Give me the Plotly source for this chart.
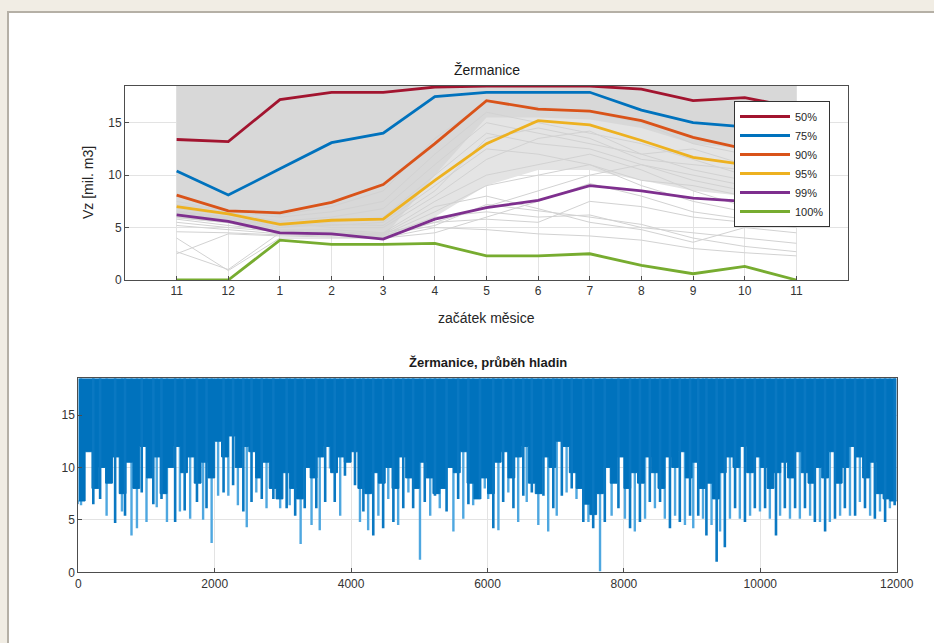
import plotly.graph_objects as go

# ---------------- data: top chart ----------------
month_labels = ["11", "12", "1", "2", "3", "4", "5", "6", "7", "8", "9", "10", "11"]
month_idx = list(range(len(month_labels)))

p50 = [13.4, 13.2, 17.2, 17.9, 17.9, 18.4, 18.5, 18.5, 18.5, 18.2, 17.1, 17.4, 16.4]
p75 = [10.4, 8.1, 10.6, 13.1, 14.0, 17.5, 17.9, 17.9, 17.9, 16.2, 15.0, 14.6, 13.8]
p90 = [8.1, 6.6, 6.4, 7.4, 9.1, 13.0, 17.1, 16.3, 16.1, 15.2, 13.6, 12.5, 11.8]
p95 = [7.0, 6.3, 5.3, 5.7, 5.8, 9.5, 13.0, 15.2, 14.8, 13.3, 11.7, 11.0, 10.6]
p99 = [6.2, 5.6, 4.5, 4.4, 3.9, 5.8, 6.9, 7.6, 9.0, 8.5, 7.8, 7.5, 6.2]
p100 = [0.0, 0.0, 3.8, 3.4, 3.4, 3.5, 2.3, 2.3, 2.5, 1.4, 0.6, 1.3, 0.0]
pct_names = ["50%", "75%", "90%", "95%", "99%", "100%"]
pct_colors = ["#A2142F", "#0072BD", "#D95319", "#EDB120", "#7E2F8E", "#77AC30"]

capacity = 18.5
dense_low = [5.9, 5.4, 4.4, 4.3, 4.0, 10.0, 15.5, 15.5, 15.3, 14.5, 13.0, 12.5, 12.0]
band_low = [5.9, 5.4, 4.4, 4.3, 4.0, 6.0, 9.0, 10.5, 10.5, 9.5, 8.5, 8.0, 7.0]

gray_years = [
    [5.5, 5.0, 4.6, 4.3, 4.2, 6.0, 6.5, 6.0, 6.2, 5.0, 4.5, 4.0, 3.5],
    [4.6, 4.5, 4.3, 4.2, 4.5, 5.5, 5.8, 5.5, 7.5, 7.0, 6.0, 5.5, 5.0],
    [2.7, 1.0, 4.5, 4.4, 4.3, 5.2, 7.2, 6.6, 6.0, 5.3, 4.0, 3.2, 2.7],
    [2.5, 4.4, 4.2, 4.1, 4.0, 5.0, 4.8, 4.4, 4.2, 3.8, 3.0, 2.6, 2.3],
    [4.0, 0.9, 4.0, 4.0, 4.0, 4.5, 6.0, 7.5, 9.2, 8.0, 6.5, 5.8, 5.0],
    [5.8, 5.2, 4.7, 4.6, 4.4, 7.0, 8.0, 6.8, 5.5, 4.8, 3.6, 5.0, 4.5],
    [6.5, 6.0, 5.0, 5.5, 6.0, 10.0, 14.0, 13.0, 12.5, 11.0, 10.0, 9.0, 8.0],
    [7.5, 6.5, 6.0, 6.5, 7.5, 12.0, 16.0, 15.0, 14.0, 13.0, 11.5, 10.0, 9.0],
    [6.8, 6.2, 5.5, 5.0, 5.0, 8.0, 11.5, 13.5, 14.2, 12.0, 10.5, 9.5, 8.5],
    [6.3, 5.8, 4.8, 4.8, 4.5, 7.5, 10.0, 11.0, 12.0, 10.5, 8.5, 7.0, 6.5],
    [7.0, 6.4, 5.6, 6.0, 6.8, 11.0, 15.0, 14.0, 13.0, 12.0, 12.5, 11.0, 10.0],
    [6.0, 5.5, 4.6, 4.5, 4.3, 6.5, 9.0, 10.0, 11.0, 9.5, 9.0, 8.0, 7.0],
    [6.6, 6.0, 5.2, 5.2, 5.5, 9.0, 12.5, 12.0, 11.0, 9.0, 7.5, 6.5, 5.5],
    [5.2, 4.8, 4.4, 4.3, 4.1, 5.5, 7.0, 8.5, 10.0, 11.0, 9.5, 8.5, 6.0],
    [7.2, 6.6, 6.2, 7.0, 8.5, 13.5, 17.0, 16.5, 16.0, 15.0, 13.0, 12.0, 11.0],
    [6.4, 5.9, 5.0, 5.3, 5.2, 8.5, 13.5, 14.5, 13.5, 11.5, 11.0, 10.5, 9.5],
]

# ---------------- data: bottom chart ----------------
floor_x = list(range(0, 12001, 100))
floor_v = [
    6.5, 6.8, 11.5, 8.0, 10.0, 8.5, 11.0, 7.5, 10.5, 8.0,
    12.0, 9.0, 11.0, 7.5, 10.0, 12.0, 9.5, 11.0, 8.5, 10.5,
    9.0, 12.5, 11.0, 13.0, 10.0, 12.0, 11.5, 9.0, 10.5, 8.0,
    7.0, 9.5, 8.0, 7.0, 10.0, 9.0, 11.0, 12.0, 9.5, 11.0,
    10.5, 11.5, 8.0, 7.5, 9.5, 8.5, 10.0, 8.0, 11.0, 9.0,
    8.0, 10.5, 9.0, 7.5, 8.0, 10.0, 9.5, 11.5, 8.5, 7.0,
    9.0, 7.5, 10.5, 11.5, 9.0, 11.0, 12.0, 8.5, 7.5, 11.0,
    10.0, 12.5, 12.0, 9.5, 8.0, 6.5, 5.5, 7.5, 10.0, 8.5,
    11.0, 8.0, 9.5, 8.5, 11.0, 9.5, 8.0, 11.0, 10.0, 11.5,
    9.0, 10.5, 8.0, 8.5, 7.0, 9.5, 11.0, 10.0, 12.0, 9.5,
    11.0, 10.0, 8.0, 9.5, 10.5, 9.0, 11.5, 9.5, 8.5, 10.0,
    9.0, 11.5, 8.5, 10.0, 12.0, 11.0, 9.0, 10.5, 7.5, 7.0,
    6.8,
]

light_spike_x = [40, 415, 640, 780, 860, 1000, 1150, 1300, 1490, 1640, 1830, 1955, 2050, 2200,
                 2340, 2470, 2610, 2760, 2960, 3100, 3260, 3420, 3540, 3690, 3840, 3983, 4130,
                 4250, 4400, 4545, 4690, 4840, 5010, 5160, 5300, 5500, 5645, 5790, 5960, 6010,
                 6160, 6305, 6450, 6575, 6745, 6890, 7015, 7160, 7305, 7480, 7650, 7820, 8015,
                 8160, 8310, 8455, 8600, 8750, 8895, 9017, 9160, 9285, 9410, 9555, 9700, 9850,
                 9995, 10140, 10290, 10435, 10580, 10730, 10875, 11020, 11170, 11315, 11460,
                 11610, 11755, 11900]
light_spike_v = [6.4, 5.4, 5.8, 3.5, 4.2, 4.8, 6.2, 4.8, 5.8, 5.1, 5.0, 2.8, 7.3, 7.3,
                 6.4, 4.3, 7.6, 6.1, 6.1, 6.4, 2.7, 4.5, 4.0, 9.9, 5.4, 10.8, 4.8,
                 4.0, 5.4, 7.0, 4.5, 7.6, 1.2, 5.4, 6.1, 3.9, 5.1, 6.4, 8.0, 7.0,
                 4.0, 7.6, 4.8, 6.7, 4.5, 3.9, 5.4, 7.6, 7.0, 4.8, 0.1, 5.4, 5.1,
                 3.9, 5.1, 6.1, 5.1, 5.4, 4.5, 4.2, 5.1, 4.5, 3.9, 5.1, 5.1, 5.4,
                 5.8, 5.1, 5.4, 5.1, 5.1, 5.4, 4.8, 4.8, 5.4, 5.4, 6.7,
                 5.4, 5.8, 6.1]
dark_spike_x = [220, 320, 540, 685, 930, 1100, 1220, 1420, 1560, 1740, 1880, 2130, 2270, 2420,
                2540, 2690, 2860, 3055, 3180, 3320, 3490, 3620, 3760, 3910, 4057, 4180, 4325,
                4470, 4620, 4765, 4910, 5080, 5230, 5400, 5570, 5720, 5890, 6085, 6230, 6380,
                6525, 6650, 6820, 6965, 7090, 7235, 7405, 7550, 7720, 7920, 8090, 8235, 8380,
                8530, 8675, 8820, 8970, 9090, 9210, 9360, 9480, 9630, 9775, 9920, 10070, 10230,
                10360, 10510, 10655, 10800, 10950, 11095, 11240, 11390, 11535, 11680, 11830, 11970]
dark_spike_v = [6.5, 7.0, 4.7, 5.4, 7.6, 6.5, 7.0, 4.8, 5.9, 6.7, 6.1, 7.6, 8.3, 5.8,
                6.7, 7.0, 7.0, 6.1, 5.4, 6.1, 6.1, 6.7, 6.7, 9.2, 8.3, 5.8, 3.5,
                4.2, 4.8, 6.1, 6.1, 6.7, 7.3, 5.8, 7.0, 6.5, 7.0, 4.2, 6.7, 6.1,
                7.3, 7.6, 7.3, 6.1, 7.3, 8.0, 4.8, 4.2, 4.8, 6.1, 4.2, 4.8, 6.7,
                6.7, 4.2, 4.8, 5.4, 5.4, 3.5, 1.0, 2.4, 6.1, 4.8, 6.1, 6.1, 3.5,
                6.1, 6.1, 6.1, 4.8, 3.9, 5.1, 6.1, 5.4, 6.1, 5.1, 4.8, 6.4]

bottom_ticks = [0, 2000, 4000, 6000, 8000, 10000, 12000]

# ---------------- figure ----------------
W, H = 934, 643
FONT = "Liberation Sans, Arial, sans-serif"
AX = "#4d4d4d"
GRID = "#e3e3e3"

fig = go.Figure()

# top: dense region of yearly trajectories
fig.add_trace(go.Scatter(x=month_idx, y=[capacity] * len(month_idx), mode="lines",
                         line=dict(width=0, color="#d9d9d9"), showlegend=False,
                         hoverinfo="skip", xaxis="x", yaxis="y"))
fig.add_trace(go.Scatter(x=month_idx, y=band_low, mode="lines", fill="tonexty",
                         fillcolor="#e4e4e4", line=dict(width=0, color="#e4e4e4"),
                         showlegend=False, hoverinfo="skip", xaxis="x", yaxis="y"))
fig.add_trace(go.Scatter(x=month_idx, y=[capacity] * len(month_idx), mode="lines",
                         line=dict(width=0, color="#d9d9d9"), showlegend=False,
                         hoverinfo="skip", xaxis="x", yaxis="y"))
fig.add_trace(go.Scatter(x=month_idx, y=dense_low, mode="lines", fill="tonexty",
                         fillcolor="#d8d8d8", line=dict(width=0, color="#d8d8d8"),
                         showlegend=False, hoverinfo="skip", xaxis="x", yaxis="y"))
for yr in gray_years:
    fig.add_trace(go.Scatter(x=month_idx, y=yr, mode="lines",
                             line=dict(width=1, color="#d2d2d2"), showlegend=False,
                             hoverinfo="skip", xaxis="x", yaxis="y"))

for name, col, vals in zip(pct_names, pct_colors, [p50, p75, p90, p95, p99, p100]):
    fig.add_trace(go.Scatter(x=month_idx, y=vals, mode="lines", name=name,
                             line=dict(width=2.8, color=col), xaxis="x", yaxis="y"))

# bottom: course of water volume
sx, sy = [], []
for x, v in zip(light_spike_x, light_spike_v):
    sx += [x, x, None]
    sy += [capacity, v, None]
fig.add_trace(go.Scatter(x=sx, y=sy, mode="lines", line=dict(width=2.4, color="#4ea7e0"),
                         showlegend=False, hoverinfo="skip", xaxis="x2", yaxis="y2"))
fig.add_trace(go.Scatter(x=floor_x, y=[capacity] * len(floor_x), mode="lines",
                         line=dict(width=0, color="#0072BD"), showlegend=False,
                         hoverinfo="skip", xaxis="x2", yaxis="y2"))
fig.add_trace(go.Scatter(x=floor_x, y=floor_v, mode="lines", fill="tonexty",
                         fillcolor="#0072BD", line=dict(width=1, color="#0072BD", shape="vh"),
                         showlegend=False, hoverinfo="skip", xaxis="x2", yaxis="y2"))
dx, dy = [], []
for x, v in zip(dark_spike_x, dark_spike_v):
    dx += [x, x, None]
    dy += [capacity, v, None]
fig.add_trace(go.Scatter(x=dx, y=dy, mode="lines", line=dict(width=2.6, color="#0a78c2"),
                         showlegend=False, hoverinfo="skip", xaxis="x2", yaxis="y2"))

axis_common = dict(showline=True, linecolor=AX, linewidth=1, mirror=True,
                   ticks="inside", ticklen=4, tickcolor=AX, showgrid=True,
                   gridcolor=GRID, gridwidth=1, zeroline=False, automargin=False,
                   tickfont=dict(family=FONT, size=12, color="#333333"))

fig.update_layout(
    width=W, height=H,
    margin=dict(l=0, r=0, t=0, b=0),
    paper_bgcolor="#f1ede4",
    plot_bgcolor="rgba(0,0,0,0)",
    font=dict(family=FONT, color="#262626"),
    xaxis=dict(domain=[125 / W, 848 / W], range=[-1, 13], tickvals=month_idx,
               ticktext=month_labels, anchor="y", **axis_common),
    yaxis=dict(domain=[1 - 280 / H, 1 - 86 / H], range=[0, capacity],
               tickvals=[0, 5, 10, 15], anchor="x", **axis_common),
    xaxis2=dict(domain=[78.3 / W, 896.7 / W], range=[0, 12000],
                tickvals=bottom_ticks, ticktext=[str(t) for t in bottom_ticks],
                anchor="y2", **axis_common),
    yaxis2=dict(domain=[1 - 572.3 / H, 1 - 378.3 / H], range=[0, capacity],
                tickvals=[0, 5, 10, 15], anchor="x2", **axis_common),
    legend=dict(x=734 / W, y=1 - 101 / H, xanchor="left", yanchor="top",
                bgcolor="white", bordercolor="#333333", borderwidth=1,
                font=dict(family=FONT, size=11, color="#262626"),
                traceorder="normal", tracegroupgap=0, itemwidth=50),
    shapes=[
        dict(type="rect", xref="paper", yref="paper", x0=7 / W, x1=1, y0=0, y1=1 - 11 / H,
             fillcolor="#b5b0a6", line=dict(width=0), layer="below"),
        dict(type="rect", xref="paper", yref="paper", x0=9 / W, x1=1, y0=0, y1=1 - 13 / H,
             fillcolor="white", line=dict(width=0), layer="below"),
    ],
    annotations=[
        dict(text="Žermanice", x=(125 + 848) / 2 / W, y=1 - 70 / H, xref="paper", yref="paper",
             xanchor="center", yanchor="middle", showarrow=False,
             font=dict(family=FONT, size=14, color="#1a1a1a")),
        dict(text="<b>Žermanice, průběh hladin</b>", x=(78.3 + 896.7) / 2 / W, y=1 - 362 / H,
             xref="paper", yref="paper", xanchor="center", yanchor="middle", showarrow=False,
             font=dict(family=FONT, size=13, color="#1a1a1a")),
        dict(text="začátek měsice", x=(125 + 848) / 2 / W, y=1 - 318 / H, xref="paper",
             yref="paper", xanchor="center", yanchor="middle", showarrow=False,
             font=dict(family=FONT, size=14, color="#262626")),
        dict(text="Vz [mil. m3]", x=88 / W, y=1 - 183 / H, xref="paper", yref="paper",
             xanchor="center", yanchor="middle", textangle=-90, showarrow=False,
             font=dict(family=FONT, size=14, color="#262626")),
    ],
)

fig.write_html("out.html", config={"displayModeBar": False},
               post_script="document.body.style.margin='0';")
